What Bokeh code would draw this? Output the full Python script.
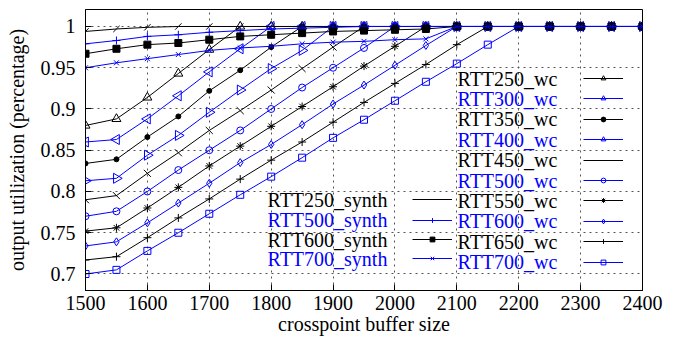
import math
from bokeh.plotting import figure
from bokeh.models import FixedTicker, Range1d, Legend, LegendItem, Label
from bokeh.embed import file_html
from bokeh.resources import INLINE

# ---------------- data ----------------
buffer_sizes = list(range(1500, 2401, 50))

rtt250_wc = [0.880, 0.888, 0.914, 0.943, 0.972] + [1.0] * 14
rtt300_wc = [0.860, 0.863, 0.888, 0.916, 0.945, 0.973] + [1.0] * 13
rtt350_wc = [0.834, 0.839, 0.866, 0.891, 0.922, 0.947, 0.975] + [1.0] * 12
rtt400_wc = [0.813, 0.816, 0.844, 0.868, 0.896, 0.923, 0.949, 0.971] + [1.0] * 11
rtt450_wc = [0.790, 0.795, 0.822, 0.847, 0.874, 0.898, 0.923, 0.949, 0.975] + [1.0] * 10
rtt500_wc = [0.770, 0.776, 0.800, 0.826, 0.850, 0.874, 0.900, 0.926, 0.950, 0.974] + [1.0] * 9
rtt550_wc = [0.752, 0.756, 0.780, 0.805, 0.831, 0.855, 0.879, 0.903, 0.927, 0.952, 0.976] + [1.0] * 8
rtt600_wc = [0.734, 0.739, 0.762, 0.786, 0.810, 0.835, 0.857, 0.881, 0.906, 0.929, 0.953, 0.977] + [1.0] * 7
rtt650_wc = [0.717, 0.721, 0.744, 0.768, 0.791, 0.815, 0.838, 0.860, 0.884, 0.908, 0.931, 0.954, 0.978] + [1.0] * 6
rtt700_wc = [0.700, 0.705, 0.728, 0.750, 0.773, 0.796, 0.818, 0.841, 0.865, 0.887, 0.910, 0.933, 0.955, 0.978] + [1.0] * 5

rtt250_synth = [0.994, 0.997, 0.999] + [1.0] * 16
rtt500_synth = [0.979, 0.983, 0.988, 0.990, 0.993, 0.995, 0.997, 0.998, 0.999] + [1.0] * 10
rtt600_synth = [0.967, 0.973, 0.978, 0.980, 0.984, 0.988, 0.990, 0.992, 0.994, 0.995, 0.996, 0.997] + [1.0] * 7
rtt700_synth = [0.950, 0.956, 0.961, 0.966, 0.971, 0.974, 0.976, 0.979, 0.981, 0.982, 0.984, 0.985] + [1.0] * 7

x_ticks = [1500, 1600, 1700, 1800, 1900, 2000, 2100, 2200, 2300, 2400]
y_ticks = [0.7, 0.75, 0.8, 0.85, 0.9, 0.95, 1.0]
y_tick_labels = ["0.7", "0.75", "0.8", "0.85", "0.9", "0.95", "1"]

BLACK = "#000000"
BLUE = "#0000ff"
FONT = "Liberation Serif"
FS = "20px"

# (label, values, color, marker, size, filled, angle)
wc_series = [
    ("RTT250_wc", rtt250_wc, BLACK, "triangle", 9, False, 0.0),
    ("RTT300_wc", rtt300_wc, BLUE, "triangle", 10, False, math.pi / 2),
    ("RTT350_wc", rtt350_wc, BLACK, "circle", 5, True, 0.0),
    ("RTT400_wc", rtt400_wc, BLUE, "triangle", 10, False, -math.pi / 2),
    ("RTT450_wc", rtt450_wc, BLACK, "dash", 10, False, -math.pi / 4),
    ("RTT500_wc", rtt500_wc, BLUE, "circle", 7, False, 0.0),
    ("RTT550_wc", rtt550_wc, BLACK, "asterisk", 8, False, 0.0),
    ("RTT600_wc", rtt600_wc, BLUE, "diamond", 8, False, 0.0),
    ("RTT650_wc", rtt650_wc, BLACK, "cross", 8, False, 0.0),
    ("RTT700_wc", rtt700_wc, BLUE, "square", 7, False, 0.0),
]
synth_series = [
    ("RTT250_synth", rtt250_synth, BLACK, "dash", 9, False, math.pi / 4),
    ("RTT500_synth", rtt500_synth, BLUE, "cross", 8, False, 0.0),
    ("RTT600_synth", rtt600_synth, BLACK, "square", 7, True, 0.0),
    ("RTT700_synth", rtt700_synth, BLUE, "x", 7, False, 0.0),
]

# ---------------- figure ----------------
p = figure(width=686, height=339, output_backend="svg", toolbar_location=None,
           x_range=Range1d(1500, 2400), y_range=Range1d(0.68, 1.0206),
           min_border_left=85, min_border_right=44, min_border_top=9, min_border_bottom=49)
p.outline_line_color = BLACK
p.outline_line_width = 1
p.outline_line_alpha = 1

for ax in (p.xaxis[0], p.yaxis[0]):
    ax.major_label_text_font = FONT
    ax.major_label_text_font_size = FS
    ax.major_label_text_color = BLACK
    ax.axis_label_text_font = FONT
    ax.axis_label_text_font_size = FS
    ax.axis_label_text_font_style = "normal"
    ax.axis_label_text_color = BLACK
    ax.major_tick_in = 6
    ax.major_tick_out = 0
    ax.minor_tick_line_color = None
    ax.axis_line_color = BLACK
    ax.major_tick_line_color = BLACK

p.xaxis[0].ticker = FixedTicker(ticks=x_ticks)
p.yaxis[0].ticker = FixedTicker(ticks=y_ticks)
p.yaxis[0].major_label_overrides = {t: s for t, s in zip(y_ticks, y_tick_labels)}
p.xaxis[0].axis_label = "crosspoint buffer size"
p.yaxis[0].axis_label = "output utilization (percentage)"
p.xaxis[0].major_label_standoff = 5
p.xaxis[0].axis_label_standoff = 0
p.yaxis[0].major_label_standoff = 10
p.yaxis[0].axis_label_standoff = 10

for g in (p.xgrid[0], p.ygrid[0]):
    g.grid_line_color = "#555555"
    g.grid_line_dash = "2 4"
    g.grid_line_width = 1
p.xgrid[0].ticker = FixedTicker(ticks=x_ticks)
p.ygrid[0].ticker = FixedTicker(ticks=y_ticks)

renderers = {}
for label, vals, color, marker, size, filled, angle in wc_series + synth_series:
    lr = p.line(buffer_sizes, vals, line_color=color, line_width=1)
    sr = p.scatter(buffer_sizes, vals, marker=marker, size=size, angle=angle,
                   line_color=color, line_width=1,
                   fill_color=color if filled else None)
    renderers[label] = [lr, sr]

# ---------------- legends (text left, sample right, like gnuplot) ----------------
FRAME_BOTTOM_IMG = 290
FRAME_LEFT_IMG = 85
ITEM_H = 20
GLYPH_H = 12

def add_entry(label, color, glyph_left_img, text_left_img, center_img):
    p.add_layout(Label(x=text_left_img - FRAME_LEFT_IMG, y=FRAME_BOTTOM_IMG - center_img,
                       x_units="screen", y_units="screen", text=label,
                       text_font=FONT, text_font_size=FS, text_color=color,
                       text_baseline="middle", text_align="left"))
    leg = Legend(items=[LegendItem(label=" ", renderers=renderers[label])],
                 location=(glyph_left_img - FRAME_LEFT_IMG,
                           FRAME_BOTTOM_IMG - center_img - ITEM_H / 2),
                 glyph_width=40, glyph_height=GLYPH_H, label_height=ITEM_H,
                 label_width=0, label_standoff=0, padding=0, margin=0, spacing=0,
                 border_line_alpha=0, background_fill_alpha=0,
                 label_text_font=FONT, label_text_font_size="10px")
    p.add_layout(leg)

wc_centers = [78, 98.4, 118.8, 139.2, 159.6, 180, 200.4, 220.8, 241.2, 261.6]
for (label, _, color, *_rest), c in zip(wc_series, wc_centers):
    add_entry(label, color, 583, 457, c)

synth_centers = [199.3, 219.5, 239.2, 258.0]
for (label, _, color, *_rest), c in zip(synth_series, synth_centers):
    add_entry(label, color, 412, 267, c)

open("out.html", "w").write(file_html(p, INLINE))
